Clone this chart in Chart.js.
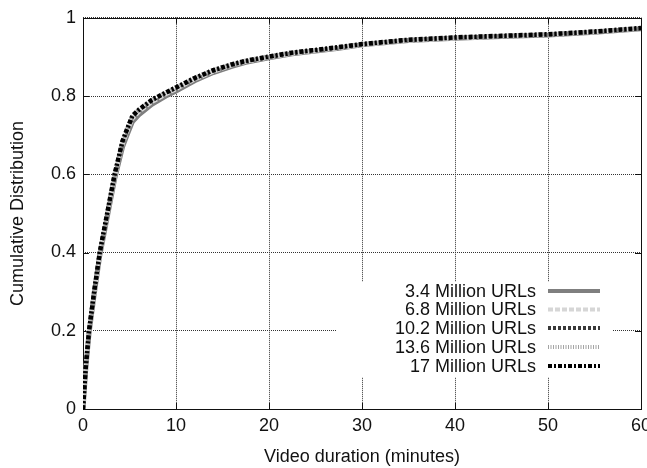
<!DOCTYPE html>
<html>
<head>
<meta charset="utf-8">
<script src="https://cdn.jsdelivr.net/npm/chart.js@4"></script>
<style>
  html, body { margin: 0; padding: 0; background: #fff; }
  canvas { display: block; }
</style>
</head>
<body>
<canvas id="cdf" width="647" height="468"></canvas>
<script>
// Video duration CDF, one curve per crawl size
const xTicks = [0, 10, 20, 30, 40, 50, 60];
const yTicks = [0, 0.2, 0.4, 0.6, 0.8, 1];

const durations = [0, 0.3, 0.65, 1.2, 1.8, 2.6, 3.4, 4.25, 4.7, 5.3, 6.0, 7.4, 8.9, 10, 12, 14, 16, 17.5, 20, 22.5, 25, 27.5, 30, 35, 40, 45, 50, 55, 60];

const cdf34 = [0, 0.104, 0.194, 0.293, 0.392, 0.49, 0.588, 0.67, 0.698, 0.734, 0.752, 0.779, 0.8, 0.813, 0.839, 0.86, 0.876, 0.886, 0.898, 0.908, 0.915, 0.922, 0.931, 0.942, 0.948, 0.952, 0.956, 0.963, 0.972];
const cdf68 = [0, 0.106, 0.198, 0.297, 0.397, 0.496, 0.595, 0.679, 0.707, 0.743, 0.76, 0.785, 0.805, 0.818, 0.843, 0.863, 0.879, 0.888, 0.899, 0.909, 0.916, 0.923, 0.931, 0.942, 0.948, 0.953, 0.957, 0.964, 0.973];
const cdf102 = [0, 0.108, 0.2, 0.3, 0.4, 0.5, 0.6, 0.684, 0.712, 0.748, 0.764, 0.789, 0.808, 0.821, 0.845, 0.865, 0.88, 0.889, 0.9, 0.91, 0.917, 0.924, 0.932, 0.943, 0.949, 0.953, 0.957, 0.964, 0.973];
const cdf136 = [0, 0.109, 0.201, 0.301, 0.401, 0.501, 0.601, 0.686, 0.714, 0.75, 0.766, 0.791, 0.81, 0.823, 0.847, 0.867, 0.882, 0.891, 0.902, 0.912, 0.918, 0.925, 0.933, 0.944, 0.95, 0.954, 0.958, 0.965, 0.974];
const cdf170 = [0, 0.108, 0.2, 0.3, 0.4, 0.5, 0.6, 0.685, 0.713, 0.749, 0.765, 0.79, 0.809, 0.822, 0.846, 0.866, 0.881, 0.89, 0.901, 0.911, 0.918, 0.925, 0.933, 0.944, 0.95, 0.954, 0.958, 0.965, 0.974];

const seriesNames = ['3.4 Million URLs', '6.8 Million URLs', '10.2 Million URLs', '13.6 Million URLs', '17 Million URLs'];
const seriesValues = [cdf34, cdf68, cdf102, cdf136, cdf170];

const lineStyles = [
  { color: '#7f7f7f', width: 5, dash: [] },
  { color: '#d6d6d6', width: 4.5, dash: [5, 2] },
  { color: '#383838', width: 4, dash: [3, 2] },
  { color: '#a4a4a4', width: 4, dash: [1, 1.5] },
  { color: '#000000', width: 4.5, dash: [4, 2, 2, 2] }
];

const FONT = 'Liberation Sans, Arial, Helvetica, sans-serif';

const datasets = seriesValues.map((vals, i) => ({
  label: seriesNames[i],
  data: durations.map((d, j) => ({ x: d, y: vals[j] })),
  showLine: true,
  borderColor: lineStyles[i].color,
  borderWidth: lineStyles[i].width,
  borderDash: lineStyles[i].dash,
  pointRadius: 0,
  tension: 0,
  order: seriesValues.length - i
}));

// frame, inner tick marks and the gnuplot style key
const framePlugin = {
  id: 'frame',
  beforeDatasetsDraw(chart) {
    const { ctx, chartArea: a, scales } = chart;
    ctx.save();
    // key background hides the grid behind it
    ctx.fillStyle = '#fff';
    ctx.fillRect(336, 282, 277, 95);

    ctx.strokeStyle = '#111';
    ctx.lineWidth = 1;
    ctx.setLineDash([]);
    ctx.beginPath();
    yTicks.forEach(v => {
      const y = Math.round(scales.y.getPixelForValue(v)) + 0.5;
      ctx.moveTo(a.left, y); ctx.lineTo(a.left + 6, y);
      ctx.moveTo(a.right, y); ctx.lineTo(a.right - 6, y);
    });
    xTicks.forEach(v => {
      const x = Math.round(scales.x.getPixelForValue(v)) + 0.5;
      ctx.moveTo(x, a.bottom); ctx.lineTo(x, a.bottom - 6);
      ctx.moveTo(x, a.top); ctx.lineTo(x, a.top + 6);
    });
    ctx.stroke();
    ctx.strokeRect(Math.round(a.left) + 0.5, Math.round(a.top) + 0.5,
      Math.round(a.right - a.left), Math.round(a.bottom - a.top));
    ctx.restore();
  },
  afterDraw(chart) {
    const { ctx } = chart;
    ctx.save();
    ctx.font = '18px ' + FONT;
    ctx.textAlign = 'right';
    ctx.textBaseline = 'middle';
    const rows = [291, 309.5, 328, 347, 366];
    seriesNames.forEach((name, i) => {
      const y = rows[i];
      ctx.fillStyle = '#111';
      ctx.fillText(name, 536, y + 1);
      const st = lineStyles[i];
      ctx.strokeStyle = st.color;
      ctx.lineWidth = Math.min(st.width, 4);
      ctx.setLineDash(st.dash);
      ctx.beginPath();
      ctx.moveTo(548, y);
      ctx.lineTo(600, y);
      ctx.stroke();
    });
    ctx.restore();
  }
};

new Chart(document.getElementById('cdf'), {
  type: 'scatter',
  data: { datasets },
  options: {
    responsive: false,
    animation: false,
    layout: { padding: { top: 16, left: 0, right: 0, bottom: 0 } },
    plugins: {
      legend: { display: false },
      tooltip: { enabled: false }
    },
    scales: {
      x: {
        type: 'linear',
        min: 0,
        max: 60,
        afterBuildTicks: s => { s.ticks = xTicks.map(v => ({ value: v })); },
        afterFit: s => { s.height = 59; s.paddingRight = 6; },
        grid: { color: '#333', lineWidth: 1, drawTicks: false },
        border: { display: false, dash: [1, 1] },
        ticks: { color: '#111', padding: 6, font: { size: 18, family: FONT }, maxRotation: 0 },
        title: {
          display: true,
          text: 'Video duration (minutes)',
          color: '#111',
          font: { size: 18, family: FONT },
          padding: { top: 0, bottom: 0 }
        }
      },
      y: {
        type: 'linear',
        min: 0,
        max: 1,
        afterBuildTicks: s => { s.ticks = yTicks.map(v => ({ value: v })); },
        afterFit: s => { s.width = 83; },
        grid: { color: '#333', lineWidth: 1, drawTicks: false },
        border: { display: false, dash: [1, 1] },
        ticks: {
          color: '#111',
          padding: 7,
          font: { size: 18, family: FONT },
          callback: v => String(v)
        },
        title: {
          display: true,
          text: 'Cumulative Distribution',
          color: '#111',
          font: { size: 18, family: FONT },
          padding: { top: 7, bottom: 0 }
        }
      }
    }
  },
  plugins: [framePlugin]
});
</script>
</body>
</html>
